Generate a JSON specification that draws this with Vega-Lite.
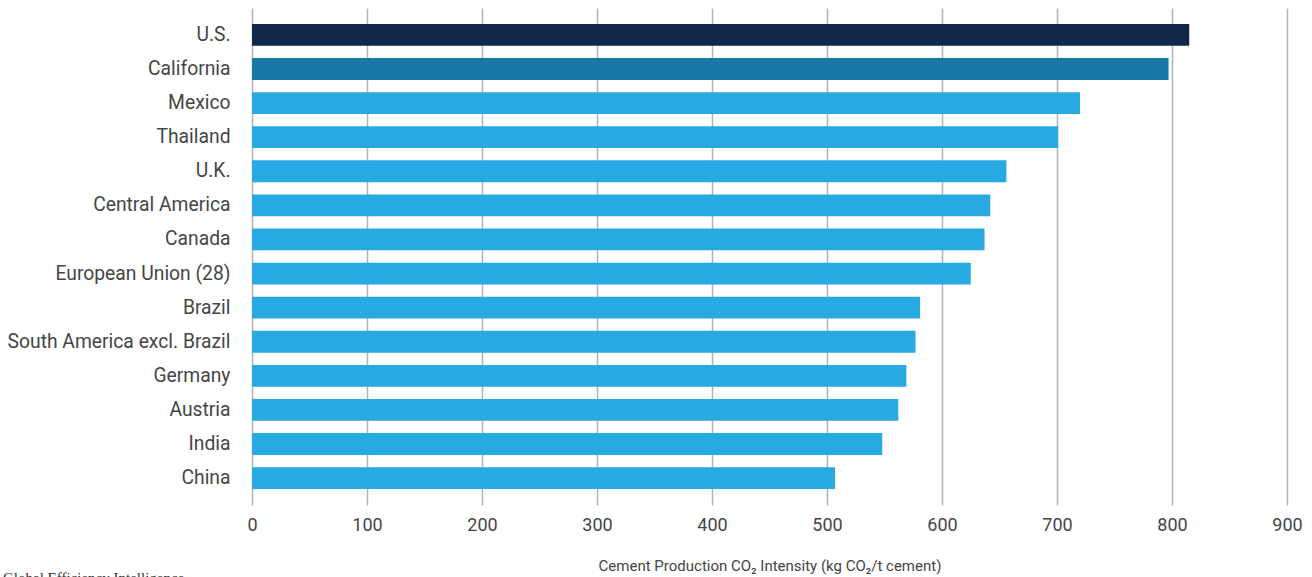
{
  "$schema": "https://vega.github.io/schema/vega-lite/v6.json",
  "autosize": {"type": "none"},
  "padding": {"left": 252, "top": 8, "right": 25, "bottom": 72},
  "width": 1035,
  "height": 497,
  "background": "white",
  "title": {
    "text": "Global Efficiency Intelligence",
    "orient": "bottom",
    "anchor": "start",
    "frame": "group",
    "font": "Liberation Serif",
    "fontSize": 15,
    "fontWeight": "normal",
    "color": "#333333",
    "offset": -2,
    "dx": -249
  },
  "data": {
    "values": [
      {"region": "U.S.", "value": 815, "group": "us"},
      {"region": "California", "value": 797, "group": "ca"},
      {"region": "Mexico", "value": 720, "group": "other"},
      {"region": "Thailand", "value": 701, "group": "other"},
      {"region": "U.K.", "value": 656, "group": "other"},
      {"region": "Central America", "value": 642, "group": "other"},
      {"region": "Canada", "value": 637, "group": "other"},
      {"region": "European Union (28)", "value": 625, "group": "other"},
      {"region": "Brazil", "value": 581, "group": "other"},
      {"region": "South America excl. Brazil", "value": 577, "group": "other"},
      {"region": "Germany", "value": 569, "group": "other"},
      {"region": "Austria", "value": 562, "group": "other"},
      {"region": "India", "value": 548, "group": "other"},
      {"region": "China", "value": 507, "group": "other"}
    ]
  },
  "mark": {"type": "bar"},
  "encoding": {
    "y": {
      "field": "region",
      "type": "nominal",
      "sort": null,
      "scale": {"paddingInner": 0.36, "paddingOuter": 0.47},
      "axis": {
        "title": null,
        "domain": false,
        "ticks": false,
        "labelFont": "Roboto",
        "labelFontSize": 19.3,
        "labelColor": "#454545",
        "labelPadding": 22,
        "labelLimit": 400
      }
    },
    "x": {
      "field": "value",
      "type": "quantitative",
      "scale": {"domain": [0, 900], "nice": false},
      "axis": {
        "title": "Cement Production CO₂ Intensity (kg CO₂/t cement)",
        "titleFont": "Roboto",
        "titleFontSize": 15,
        "titleFontWeight": "normal",
        "titleColor": "#454545",
        "titlePadding": 24,
        "values": [0, 100, 200, 300, 400, 500, 600, 700, 800, 900],
        "domain": false,
        "ticks": false,
        "grid": true,
        "gridColor": "#b3b3b3",
        "gridWidth": 1.5,
        "labelFont": "Roboto",
        "labelFontSize": 18,
        "labelColor": "#454545",
        "labelPadding": 11,
        "labelFlush": false
      }
    },
    "color": {
      "field": "group",
      "type": "nominal",
      "scale": {"domain": ["us", "ca", "other"], "range": ["#12284a", "#1878a8", "#29a9e1"]},
      "legend": null
    }
  },
  "config": {"view": {"stroke": null}}
}
